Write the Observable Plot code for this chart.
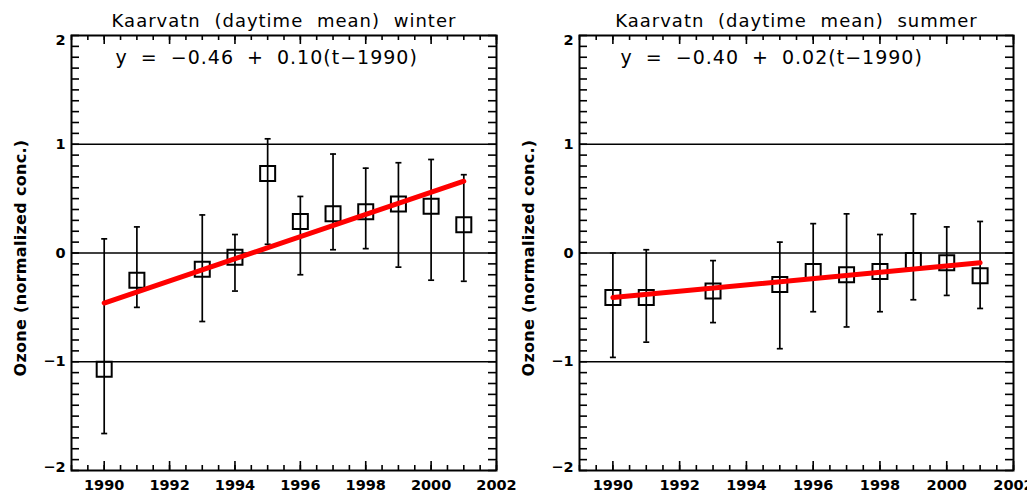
<!DOCTYPE html>
<html><head><meta charset="utf-8">
<script src="https://cdn.jsdelivr.net/npm/d3@7"></script>
<script src="https://cdn.jsdelivr.net/npm/@observablehq/plot@0.6"></script>
<style>
body{margin:0;background:#fff;}
#wrap{position:relative;width:1027px;height:495px;background:#fff;overflow:hidden;}
#wrap svg{position:absolute;top:0;overflow:visible;max-width:none;}
</style></head><body><div id="wrap"></div>
<script>
// ---- data ----
const xTickLabels = [1990, 1992, 1994, 1996, 1998, 2000, 2002];
const yTickLabels = [-2, -1, 0, 1, 2];
const refLines = [-1, 0, 1];
const trendYears = [1990, 2001];

const winterYears = [1990, 1991, 1993, 1994, 1995, 1996, 1997, 1998, 1999, 2000, 2001];
const winterMean  = [-1.07, -0.25, -0.15, -0.04, 0.73, 0.29, 0.36, 0.38, 0.45, 0.43, 0.26];
const winterLow   = [-1.66, -0.50, -0.63, -0.35, 0.08, -0.20, 0.03, 0.04, -0.13, -0.25, -0.26];
const winterHigh  = [0.13, 0.24, 0.35, 0.17, 1.05, 0.52, 0.91, 0.78, 0.83, 0.86, 0.72];
const winterTrend = [-0.46, 0.66];

const summerYears = [1990, 1991, 1993, 1995, 1996, 1997, 1998, 1999, 2000, 2001];
const summerMean  = [-0.41, -0.41, -0.35, -0.29, -0.17, -0.20, -0.17, -0.07, -0.09, -0.21];
const summerLow   = [-0.96, -0.82, -0.64, -0.88, -0.54, -0.68, -0.54, -0.43, -0.39, -0.51];
const summerHigh  = [0.00, 0.03, -0.07, 0.10, 0.27, 0.36, 0.17, 0.36, 0.24, 0.29];
const summerTrend = [-0.41, -0.09];

const yLabel = "Ozone (normalized conc.)";

// ---- drawing ----
const xMinor = d3.range(1989, 2002.001, 0.5);
const xMajor = xTickLabels;
const yMinor = d3.range(-20, 21).map(d => d / 10);

const squareSym = {draw(ctx, size) { const h = Math.sqrt(size / Math.PI); ctx.moveTo(-h, -h); ctx.lineTo(h, -h); ctx.lineTo(h, h); ctx.lineTo(-h, h); ctx.closePath(); }};
const capSym = {draw(ctx, size) { const h = Math.sqrt(size / Math.PI); ctx.moveTo(-h, 0); ctx.lineTo(h, 0); }};
const fmtY = d => d < 0 ? "\u2212" + Math.abs(d) : String(d);

function panel({title, equation, years, mean, low, high, trend, width, marginLeft, marginRight, eqDx}) {
  const height = 495, marginTop = 35, marginBottom = 25;
  const W = width - marginLeft - marginRight, H = height - marginTop - marginBottom;
  const data = years.map((year, i) => ({year, mean: mean[i], low: low[i], high: high[i]}));
  const trendData = trendYears.map((year, i) => ({year, value: trend[i]}));
  const tickStyle = {stroke: "black", strokeWidth: 1.6};
  const labStyle = {fontSize: 14.5, fontWeight: "bold", fill: "black"};
  const svg = Plot.plot({
    width, height, marginLeft, marginRight, marginTop, marginBottom,
    x: {domain: [1989, 2002], axis: null},
    y: {domain: [-2, 2], axis: null},
    style: {fontFamily: "DejaVu Sans", background: "transparent", color: "black", overflow: "visible"},
    marks: [
      Plot.ruleY(refLines, {stroke: "black", strokeWidth: 1.6}),
      Plot.tickY(yMinor, {y: d => d, insetRight: W - 8, ...tickStyle}),
      Plot.tickY(yMinor, {y: d => d, insetLeft: W - 8, ...tickStyle}),
      Plot.tickX(xMinor, {x: d => d, insetTop: H - 5, ...tickStyle}),
      Plot.tickX(xMinor, {x: d => d, insetBottom: H - 5, ...tickStyle}),
      Plot.tickX(xMajor, {x: d => d, insetTop: H - 9, ...tickStyle}),
      Plot.tickX(xMajor, {x: d => d, insetBottom: H - 9, ...tickStyle}),
      Plot.ruleX(data, {x: "year", y1: "low", y2: "high", stroke: "black", strokeWidth: 1.7}),
      Plot.dot(data, {x: "year", y: "high", symbol: capSym, r: 3, fill: "none", stroke: "black", strokeWidth: 1.7}),
      Plot.dot(data, {x: "year", y: "low", symbol: capSym, r: 3, fill: "none", stroke: "black", strokeWidth: 1.7}),
      Plot.dot(data, {x: "year", y: "mean", symbol: squareSym, r: 7.5, fill: "none", stroke: "black", strokeWidth: 2}),
      Plot.line(trendData, {x: "year", y: "value", stroke: "#ff0000", strokeWidth: 5}),
      Plot.frame({stroke: "black", strokeWidth: 2}),
      Plot.text(xTickLabels, {x: d => d, text: d => String(d), frameAnchor: "bottom", dy: 15, lineAnchor: "middle", ...labStyle}),
      Plot.text(yTickLabels.filter(d => d > -2 && d < 2), {y: d => d, text: fmtY, frameAnchor: "left", dx: -6, textAnchor: "end", lineAnchor: "middle", ...labStyle}),
      Plot.text(yTickLabels.filter(d => d === 2), {y: d => d, text: fmtY, frameAnchor: "left", dx: -6, dy: -1, textAnchor: "end", lineAnchor: "top", ...labStyle}),
      Plot.text(yTickLabels.filter(d => d === -2), {y: d => d, text: fmtY, frameAnchor: "left", dx: -6, dy: 1, textAnchor: "end", lineAnchor: "bottom", ...labStyle}),
      Plot.text([yLabel], {text: d => d, frameAnchor: "left", dx: -51, dy: 5, rotate: -90, textAnchor: "middle", lineAnchor: "middle", fontSize: 16, fontWeight: "bold", fill: "black"}),
      Plot.text([title], {text: d => d, frameAnchor: "top", dy: -14, textAnchor: "middle", lineAnchor: "middle", fontSize: 18, fill: "black"}),
      Plot.text([equation], {text: d => d, frameAnchor: "top-left", dx: eqDx, dy: 22, textAnchor: "start", lineAnchor: "middle", fontSize: 19, fill: "black"})
    ]
  });
  const texts = d3.select(svg).selectAll("text");
  texts.filter(function() { return this.textContent === title; }).attr("letter-spacing", 1).attr("word-spacing", 7);
  texts.filter(function() { return this.textContent === equation; }).attr("letter-spacing", 1).attr("word-spacing", 6);
  texts.filter(function() { return this.textContent === yLabel; }).attr("letter-spacing", 0.3);
  return svg;
}

const wrap = document.getElementById("wrap");
const right = panel({title: "Kaarvatn (daytime mean) summer", equation: "y = \u22120.40 + 0.02(t\u22121990)",
  years: summerYears, mean: summerMean, low: summerLow, high: summerHigh, trend: summerTrend,
  width: 517, marginLeft: 69, marginRight: 14, eqDx: 41});
right.style.left = "510px";
const left = panel({title: "Kaarvatn (daytime mean) winter", equation: "y = \u22120.46 + 0.10(t\u22121990)",
  years: winterYears, mean: winterMean, low: winterLow, high: winterHigh, trend: winterTrend,
  width: 510, marginLeft: 71, marginRight: 14, eqDx: 44});
left.style.left = "0px";
wrap.appendChild(right);
wrap.appendChild(left);
</script>
</body></html>
